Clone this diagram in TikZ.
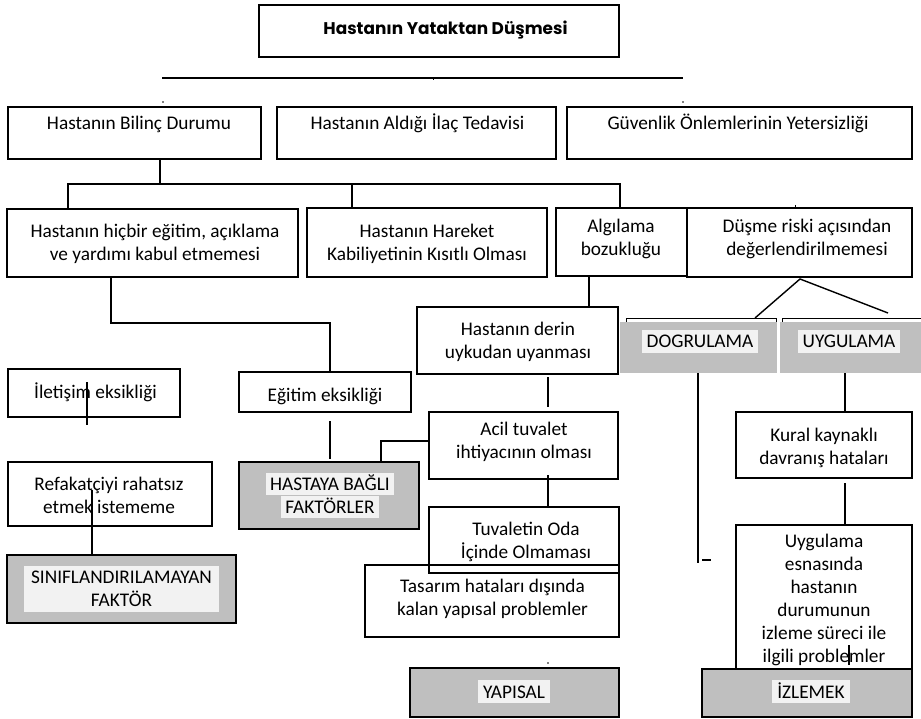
\documentclass[tikz,border=0pt]{standalone}
\usepackage{fontspec}
\setmainfont{Carlito}
\newfontfamily\titlefont{Poppins}
\definecolor{grayfill}{HTML}{BFBFBF}
\definecolor{hl}{HTML}{F2F2F2}
\newcommand\hlb[1]{{\setlength\fboxsep{0pt}\colorbox{hl}{\hspace{4pt}\rule[-5pt]{0pt}{22.5pt}#1\hspace{4pt}}}}
\begin{document}
\begin{tikzpicture}[x=1pt,y=-1pt,
  box/.style={draw, line width=1.4pt, inner sep=0pt},
  graybox/.style={draw, fill=grayfill, line width=2.4pt, inner sep=0pt},
  flatgray/.style={fill=grayfill, inner sep=0pt},
  txt/.style={inner sep=0pt, align=center, font=\fontsize{19.3}{23}\selectfont},
  hltxt/.style={txt, fill=hl, inner xsep=5pt, text height=18pt, text depth=5pt},
  conn/.style={line width=1.4pt},
  thinline/.style={line width=1pt}]
\useasboundingbox (0,0) rectangle (921,719);
% boxes
\node[box, minimum width=360pt, minimum height=52pt] (title) at (439,31) {};
\node[box, minimum width=253pt, minimum height=52pt] (bil) at (134.5,133) {};
\node[box, minimum width=279pt, minimum height=52pt] (ilac) at (416.5,133) {};
\node[box, minimum width=345pt, minimum height=52pt] (guv) at (739.5,133) {};
\node[box, minimum width=291pt, minimum height=68pt] (hic) at (152.5,243) {};
\node[box, minimum width=240pt, minimum height=69pt] (har) at (427,242.5) {};
\node[box, minimum width=131pt, minimum height=68pt] (alg) at (621.5,242) {};
\node[box, minimum width=225pt, minimum height=69pt] (dus) at (799.5,242.5) {};
\node[box, minimum width=172pt, minimum height=48pt] (ilet) at (94,393) {};
\node[box, minimum width=172pt, minimum height=40pt] (egit) at (325,392) {};
\node[box, minimum width=201pt, minimum height=67pt] (derin) at (517.5,340.5) {};
\node[box, minimum width=189pt, minimum height=67pt] (acil) at (523.5,445.5) {};
\node[box, minimum width=190pt, minimum height=66pt] (tuv) at (524,540) {};
\node[box, minimum width=254pt, minimum height=72pt] (tas) at (492,601) {};
\node[box, minimum width=204pt, minimum height=64pt] (ref) at (110,494) {};
\node[box, minimum width=176pt, minimum height=66pt] (kur) at (824,445) {};
\node[box, minimum width=176pt, minimum height=144pt] (uyes) at (824,597) {};
\node[graybox, minimum width=180pt, minimum height=67pt] (hast) at (329,495.5) {};
\node[graybox, minimum width=229pt, minimum height=68pt] (sin) at (121.5,589) {};
\node[graybox, minimum width=209pt, minimum height=49pt] (yap) at (514.5,692.5) {};
\node[graybox, minimum width=210pt, minimum height=48pt] (izl) at (807,693) {};
\node[flatgray, minimum width=157pt, minimum height=51pt] (dog) at (698.5,347.5) {};
\node[flatgray, minimum width=141pt, minimum height=51pt] (uyg) at (850.5,347.5) {};
% texts (anchor=base is the baseline of the last line)
\node[txt, anchor=base] (title-t) at (445.5,34.5) {\titlefont\bfseries\fontsize{16.9}{20}\selectfont Hastanın Yataktan Düşmesi};
\node[txt, anchor=base] (bil-t) at (139,129.5) {Hastanın Bilinç Durumu};
\node[txt, anchor=base] (ilac-t) at (417.5,129.5) {Hastanın Aldığı İlaç Tedavisi};
\node[txt, anchor=base] (guv-t) at (738,129.5) {Güvenlik Önlemlerinin Yetersizliği};
\node[txt, anchor=base] (hic-t) at (155,261) {Hastanın hiçbir eğitim, açıklama\\ve yardımı kabul etmemesi};
\node[txt, anchor=base] (har-t) at (427,261) {Hastanın Hareket\\Kabiliyetinin Kısıtlı Olması};
\node[txt, anchor=base] (alg-t) at (621,256) {Algılama\\bozukluğu};
\node[txt, anchor=base] (dus-t) at (807,256) {Düşme riski açısından\\değerlendirilmemesi};
\node[txt, anchor=base] (ilet-t) at (95.5,398) {İletişim eksikliği};
\node[txt, anchor=base] (egit-t) at (325,401) {Eğitim eksikliği};
\node[txt, anchor=base] (derin-t) at (518,358) {Hastanın derin\\uykudan uyanması};
\node[txt, anchor=base] (acil-t) at (524,458) {Acil tuvalet\\ihtiyacının olması};
\node[txt, anchor=base] (tuv-t) at (526,558) {Tuvaletin Oda\\İçinde Olmaması};
\node[txt, anchor=base] (tas-t) at (492.5,615) {Tasarım hataları dışında\\kalan yapısal problemler};
\node[txt, anchor=base] (ref-t) at (109,513) {Refakatçiyi rahatsız\\etmek istememe};
\node[txt, anchor=base] (kur-t) at (824,464) {Kural kaynaklı\\davranış hataları};
\node[txt, anchor=base] (uyes-t) at (824,662) {Uygulama\\esnasında\\hastanın\\durumunun\\izleme süreci ile\\ilgili problemler};
\node[txt, anchor=base] (hast-t) at (330,513) {\hlb{HASTAYA BAĞLI}\\\hlb{FAKTÖRLER}};
\node[txt, fill=hl, minimum width=195pt, minimum height=46pt] (sin-t) at (121.5,589) {SINIFLANDIRILAMAYAN\\FAKTÖR};
\node[hltxt, anchor=base] (dog-t) at (700,348) {DOGRULAMA};
\node[hltxt, anchor=base] (uyg-t) at (849,348) {UYGULAMA};
\node[hltxt, anchor=base] (yap-t) at (514,698) {YAPISAL};
\node[hltxt, anchor=base] (izl-t) at (811,698) {İZLEMEK};
% connectors
\coordinate (hl-l) at (162,78);
\coordinate (hl-r) at (683,78);
\draw[conn] (hl-l) -- (hl-r);
\draw[thinline] (433,78) -- (433,80.5);
\fill (163,102) circle[radius=0.9pt];
\fill (683,102) circle[radius=0.9pt];
\coordinate (bus-l) at (68,184);
\coordinate (bus-r) at (620,184);
\draw[conn] (160,0 |- bil.south) -- (160,184);
\draw[conn] (hic.north -| bus-l) -- (bus-l) -- (bus-r) -- (alg.north -| bus-r);
\draw[conn] (352,184) -- (352,0 |- har.north);
\draw[conn] (111,0 |- hic.south) |- (330,323) -- (330,0 |- egit.north);
\draw[conn] (330,421) -- (330,459);
\draw[conn] (acil.west |- 0,441) -- (381,441) -- (381,0 |- hast.north);
\draw[conn] (589,0 |- alg.south) -- (589,0 |- derin.north);
\draw[conn] (548,377) -- (548,407);
\draw[conn] (548,475) -- (548,0 |- tuv.north);
\coordinate (apex) at (800,279);
\draw[conn] (755,318) -- (apex) -- (888,313);
\draw[thinline] (626,322) -- (626,319) -- (776,319) -- (776,322);
\draw[thinline] (782,322) -- (782,319) -- (921,319);
\draw[conn] (698,0 |- dog.south) -- (698,563);
\draw[conn] (702,560) -- (711,560);
\draw[conn] (845,0 |- uyg.south) -- (845,0 |- kur.north);
\draw[conn] (845,483) -- (845,0 |- uyes.north);
\draw[conn] (87,382) -- (87,425);
\draw[conn] (92,490) -- (92,0 |- sin.north);
\draw[conn] (849,645) -- (849,665);
\fill (548,663) circle[radius=0.9pt];
\draw[thinline] (795,205) -- (795,208);
\end{tikzpicture}
\end{document}
